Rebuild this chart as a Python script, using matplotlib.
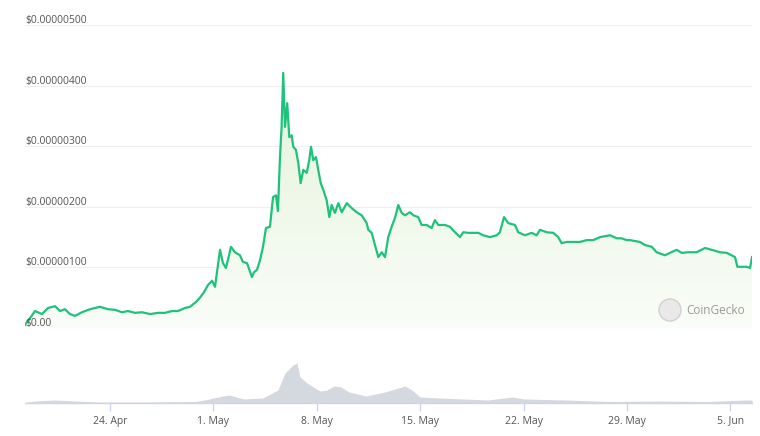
import numpy as np
import pandas as pd
import matplotlib
matplotlib.use("Agg")
import matplotlib.pyplot as plt
import matplotlib.dates as mdates
from matplotlib.patches import Circle
from matplotlib.colors import LinearSegmentedColormap

plt.rcParams['font.family'] = ['Open Sans', 'DejaVu Sans']

# days after 24 Apr and price in units of 1e-8 USD
price_day = [-5.76, -5.42, -5.08, -4.60, -4.20, -3.72, -3.39, -3.05, -2.71, -2.37,
             -1.90, -1.35, -0.68, -0.14, 0.34, 0.81, 1.22, 1.69, 2.17, 2.71,
             3.25, 3.72, 4.20, 4.60, 5.08, 5.42, 5.82, 6.09, 6.36, 6.64,
             6.91, 7.11, 7.31, 7.45, 7.65, 7.85, 8.06, 8.19, 8.46, 8.80,
             9.00, 9.28, 9.61, 9.75, 9.95, 10.16, 10.36, 10.56, 10.83, 11.04,
             11.24, 11.37, 11.51, 11.62, 11.73, 11.85, 12.00, 12.14, 12.30, 12.41,
             12.59, 12.75, 12.91, 13.09, 13.32, 13.49, 13.61, 13.76, 13.95, 14.10,
             14.27, 14.44, 14.67, 14.85, 15.01, 15.23, 15.46, 15.69, 16.03, 16.36,
             16.70, 17.04, 17.38, 17.49, 17.72, 17.94, 18.17, 18.40, 18.62, 18.84,
             19.07, 19.30, 19.52, 19.75, 19.97, 20.31, 20.54, 20.87, 21.10, 21.44,
             21.78, 22.00, 22.23, 22.68, 23.02, 23.36, 23.70, 23.92, 24.26, 24.60,
             24.94, 25.27, 25.73, 26.18, 26.40, 26.68, 26.97, 27.42, 27.64, 28.10,
             28.55, 28.89, 29.11, 29.57, 30.01, 30.35, 30.58, 30.92, 31.37, 31.82,
             32.27, 32.72, 33.18, 33.85, 34.31, 34.64, 34.98, 35.21, 35.88, 36.22,
             36.68, 37.01, 37.58, 37.91, 38.37, 38.71, 39.16, 39.72, 40.29, 40.74,
             41.30, 41.76, 42.32, 42.48, 42.78, 43.12, 43.34, 43.47]
price = [5, 16, 28, 23, 33, 36, 28, 31, 23, 20,
         26, 31, 35, 31, 30, 26, 28, 25, 26, 23,
         25, 25, 28, 28, 33, 35, 43, 50, 59, 71,
         78, 68, 104, 129, 107, 99, 120, 134, 125, 120,
         109, 107, 84, 92, 96, 112, 134, 165, 167, 216,
         219, 193, 282, 332, 421, 332, 371, 315, 318, 299,
         294, 272, 239, 261, 256, 277, 299, 277, 282, 261,
         239, 228, 211, 183, 203, 190, 206, 191, 206, 198,
         191, 186, 173, 162, 157, 137, 117, 125, 117, 150,
         167, 182, 203, 190, 186, 191, 186, 183, 170, 170,
         165, 178, 170, 170, 167, 158, 150, 158, 157, 157,
         157, 153, 150, 153, 158, 183, 173, 170, 158, 153,
         157, 153, 162, 158, 157, 150, 140, 142, 142, 142,
         145, 145, 150, 153, 148, 148, 145, 145, 142, 137,
         134, 125, 120, 124, 129, 124, 125, 125, 132, 129,
         125, 124, 117, 101, 101, 101, 99, 117]

# volume, relative units
vol_day = [-5.82, -5.08, -3.72, -2.37, -0.81, 2.71, 5.75, 6.43, 7.31, 8.06,
           9.07, 10.36, 11.37, 11.85, 12.39, 12.66, 12.86, 13.34, 14.22, 14.69,
           15.17, 15.64, 16.18, 17.33, 18.62, 19.30, 19.97, 20.45, 20.99, 22.27,
           25.59, 27.22, 28.03, 30.87, 33.85, 37.17, 40.42, 43.06, 43.47]
volume = [0.5, 2, 3, 2, 1, 1, 1.5, 3, 6, 8,
          4, 5, 13, 30, 38, 40, 26, 20, 12, 13,
          17, 16, 11, 7, 11, 14, 17, 13, 6, 5,
          3, 6, 4, 3, 1.5, 2, 1.5, 3, 3]

y_ticks = [0, 100, 200, 300, 400, 500]
y_labels = ["$0.00", "$0.00000100", "$0.00000200", "$0.00000300",
            "$0.00000400", "$0.00000500"]
tick_days = [0, 7, 14, 21, 28, 35, 42]
tick_labels = ["24. Apr", "1. May", "8. May", "15. May", "22. May", "29. May", "5. Jun"]

base = pd.Timestamp("2023-04-24")
def to_num(days):
    return mdates.date2num(base + pd.to_timedelta(np.array(days), unit="D"))

px = to_num(price_day)
py = np.array(price) * 1e-8
vx = to_num(vol_day)
vy = np.array(volume)
tx = to_num(tick_days)

W, H = 760, 436
fig = plt.figure(figsize=(W / 100, H / 100), dpi=100)
ax = fig.add_axes([25 / W, 1 - 328 / H, 727 / W, 303 / H])
axv = fig.add_axes([25 / W, 1 - 403 / H, 727 / W, 48 / H])

xmin, xmax = to_num([-5.755, 43.47])
line_color = '#1ec27b'

# price area with gradient fill
for v in y_ticks:
    ax.axhline(v * 1e-8, color='#efefef', lw=0.8, zorder=0)
poly = ax.fill_between(px, py, 0, color='none', lw=0)
cmap = LinearSegmentedColormap.from_list('g', ['#fafdf8', '#e4f3da'])
grad = np.linspace(0, 1, 256).reshape(-1, 1)
im = ax.imshow(grad, cmap=cmap, aspect='auto', origin='lower',
               extent=[xmin, xmax, 0, max(py)], zorder=1)
im.set_clip_path(poly.get_paths()[0], transform=ax.transData)
ax.plot(px, py, color=line_color, lw=1.6, zorder=3, solid_joinstyle='round')
ax.set_xlim(xmin, xmax)
ax.set_ylim(0, 5e-6)
ax.axis('off')

for v, lab in zip(y_ticks, y_labels):
    ax.annotate(lab, (0, v * 1e-8), xycoords=('axes fraction', 'data'),
                xytext=(0, 2), textcoords='offset pixels', ha='left', va='baseline',
                fontsize=7.5, color='#555555', zorder=4)

# watermark
logo = Circle((670, H - 310), 11, transform=None, facecolor='#e9e9e9',
              edgecolor='#d0d0d0', lw=1.0, zorder=5)
fig.patches.append(logo)
fig.text(686 / W, 1 - 310 / H, "CoinGecko", fontsize=8.5, color='#9a9a9a',
         ha='left', va='center')

# volume
axv.fill_between(vx, vy, 0, color='#d4d8df', lw=0)
axv.set_xlim(xmin, xmax)
axv.set_ylim(0, 48)
for s in ['top', 'left', 'right']:
    axv.spines[s].set_visible(False)
axv.spines['bottom'].set_color('#ccd6eb')
axv.spines['bottom'].set_linewidth(1.0)
axv.set_yticks([])
axv.set_xticks(tx)
axv.set_xticklabels(tick_labels)
axv.tick_params(axis='x', length=6, width=1, color='#ccd6eb', labelsize=7.5,
                labelcolor='#555555', pad=3)

fig.savefig("out.png", dpi=100)
